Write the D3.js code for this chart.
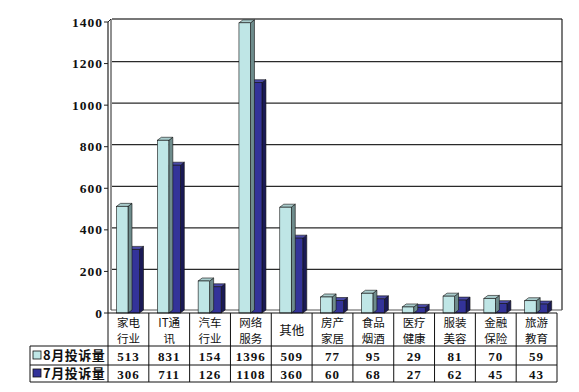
<!DOCTYPE html>
<html><head><meta charset="utf-8">
<script src="https://cdn.jsdelivr.net/npm/d3@7/dist/d3.min.js"></script>
<style>body{margin:0;background:#fff}svg{display:block}</style>
</head><body>
<script>
const categories = [["家电","行业"],["IT通","讯"],["汽车","行业"],["网络","服务"],["其他"],["房产","家居"],["食品","烟酒"],["医疗","健康"],["服装","美容"],["金融","保险"],["旅游","教育"]];
const seriesNames = ["8月投诉量","7月投诉量"];
const aug = [513,831,154,1396,509,77,95,29,81,70,59];
const jul = [306,711,126,1108,360,60,68,27,62,45,43];
const yTicks = [0,200,400,600,800,1000,1200,1400];

const W=579,H=392;
const svg=d3.select("body").append("svg").attr("width",W).attr("height",H);
const keys=categories.map((c,i)=>"c"+i);
const x=d3.scaleBand().domain(keys).range([108,557]);
const y=d3.scaleLinear().domain([0,1400]).range([313,22]);
const DX=4,DY=3;
const numFont="'Liberation Serif','DejaVu Serif',serif";
const cjkFont="'Noto Sans CJK SC','Liberation Serif',sans-serif";

// back wall gridlines
svg.append("g").selectAll("line").data(yTicks.slice(1,-1)).join("line")
  .attr("x1",108+DX).attr("x2",557+DX+1).attr("y1",d=>y(d)-DY+1).attr("y2",d=>y(d)-DY+1)
  .attr("stroke","#2a2a2a").attr("stroke-width",1.3);
svg.append("line").attr("x1",108+DX).attr("x2",557+DX+1).attr("y1",y(1400)-DY).attr("y2",y(1400)-DY)
  .attr("stroke","#777").attr("stroke-width",2);
svg.append("line").attr("x1",557+DX+1).attr("x2",557+DX+1).attr("y1",y(1400)-DY).attr("y2",313-DY)
  .attr("stroke","#222").attr("stroke-width",1.2);
svg.append("path").attr("d",`M108,${y(1400)} L${108+DX-1},${y(1400)-DY} L${108+DX-1},${313-DY}`).attr("fill","none").attr("stroke","#222").attr("stroke-width",1);
svg.append("line").attr("x1",108).attr("x2",108).attr("y1",y(1400)).attr("y2",313).attr("stroke","#222").attr("stroke-width",1.2);
svg.append("line").attr("x1",108+DX-1).attr("x2",557+DX+1).attr("y1",313-DY).attr("y2",313-DY).attr("stroke","#555").attr("stroke-width",1);

// axis ticks & labels
const ax=svg.append("g");
ax.selectAll("line").data(yTicks).join("line").attr("x1",104).attr("x2",108).attr("y1",d=>y(d)).attr("y2",d=>y(d)).attr("stroke","#222");
ax.selectAll("text").data(yTicks).join("text").attr("x",103).attr("y",d=>y(d)+4.5).attr("text-anchor","end")
  .attr("font-family",numFont).attr("font-weight","bold").attr("font-size",13.5).attr("letter-spacing",1).attr("fill","#111").text(d=>d);

// bars
const bw=11.5;
const colors=[{front:"#bfe6e6",side:"#6e8c8c",top:"#a9cccc"},{front:"#333399",side:"#1a1a55",top:"#4a4aa8"}];
function bar(g,x0,v,c){
  const yt=y(v),yb=313;
  g.append("path").attr("d",`M${x0+bw},${yt} L${x0+bw+DX},${yt-DY} L${x0+bw+DX},${yb-DY} L${x0+bw},${yb} Z`).attr("fill",c.side).attr("stroke","#111").attr("stroke-width",0.6);
  g.append("path").attr("d",`M${x0},${yt} L${x0+DX},${yt-DY} L${x0+bw+DX},${yt-DY} L${x0+bw},${yt} Z`).attr("fill",c.top).attr("stroke","#111").attr("stroke-width",0.6);
  g.append("rect").attr("x",x0).attr("y",yt).attr("width",bw).attr("height",yb-yt).attr("fill",c.front).attr("stroke","#111").attr("stroke-width",0.6);
}
const bg=svg.append("g");
keys.forEach((k,i)=>{
  const x0=x(k)+8.5;
  bar(bg,x0+bw,jul[i],colors[1]);
  bar(bg,x0,aug[i],colors[0]);
});

// table
const tb=svg.append("g").attr("stroke","#111").attr("stroke-width",1);
const rowY=[313,346,365,382];
tb.append("line").attr("x1",108).attr("x2",557).attr("y1",rowY[0]).attr("y2",rowY[0]);
[1,2,3].forEach(r=>tb.append("line").attr("x1",30).attr("x2",557).attr("y1",rowY[r]).attr("y2",rowY[r]));
tb.append("line").attr("x1",30).attr("x2",30).attr("y1",rowY[1]).attr("y2",rowY[3]);
keys.forEach(k=>tb.append("line").attr("x1",x(k)).attr("x2",x(k)).attr("y1",rowY[0]).attr("y2",rowY[3]));
tb.append("line").attr("x1",557).attr("x2",557).attr("y1",rowY[0]).attr("y2",rowY[3]);

const tt=svg.append("g").attr("text-anchor","middle");
keys.forEach((k,i)=>{
  const cx=x(k)+x.bandwidth()/2;
  const lines=categories[i];
  if(lines.length===1){
    tt.append("text").attr("x",cx).attr("y",334.5).attr("font-family",cjkFont).attr("font-size",12.5).attr("fill","#111").text(lines[0]);
  } else {
    lines.forEach((ln,j)=>tt.append("text").attr("x",cx).attr("y",326.5+j*16.7).attr("font-family",cjkFont).attr("font-size",11.5).attr("fill","#111").text(ln));
  }
  tt.append("text").attr("x",cx).attr("y",361).attr("font-family",numFont).attr("font-weight","bold").attr("font-size",13).attr("letter-spacing",1).attr("fill","#111").text(aug[i]);
  tt.append("text").attr("x",cx).attr("y",378.5).attr("font-family",numFont).attr("font-weight","bold").attr("font-size",13).attr("letter-spacing",1).attr("fill","#111").text(jul[i]);
});
// legend cells
const lg=svg.append("g");
[[0,351],[1,369]].forEach(([i,yy])=>{
  lg.append("rect").attr("x",33).attr("y",yy).attr("width",8).attr("height",8).attr("fill",colors[i].front).attr("stroke","#111").attr("stroke-width",0.8);
  lg.append("text").attr("x",43).attr("y",yy+8.5).attr("font-family",cjkFont).attr("font-weight","bold").attr("font-size",13).attr("letter-spacing",0.5).attr("fill","#111").text(seriesNames[i]);
});
</script>
</body></html>
